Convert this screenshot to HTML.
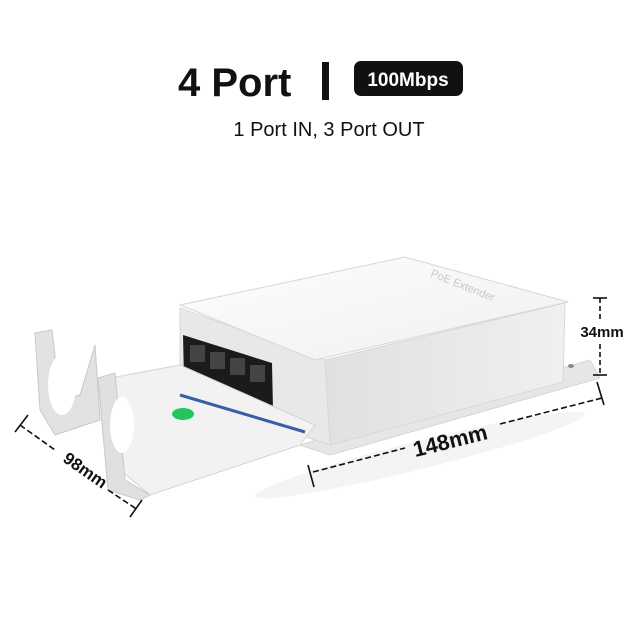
<!DOCTYPE html><html><head><style>body{margin:0;background:#fff}svg{display:block}</style></head><body>
<svg width="640" height="640" viewBox="0 0 640 640" xmlns="http://www.w3.org/2000/svg" font-family="Liberation Sans, sans-serif">
<defs>
<linearGradient id="side" x1="0" y1="0" x2="1" y2="0"><stop offset="0" stop-color="#e0e0e0"/><stop offset="1" stop-color="#f0f0f0"/></linearGradient>
<linearGradient id="top" x1="0" y1="0" x2="1" y2="1"><stop offset="0" stop-color="#fdfdfd"/><stop offset="1" stop-color="#f0f0f0"/></linearGradient>
</defs>
<text x="178" y="96" font-size="40" font-weight="bold" fill="#111">4 Port</text>
<rect x="322" y="62" width="7" height="38" fill="#111"/>
<rect x="354" y="61" width="109" height="35" rx="7" fill="#111"/>
<text x="408" y="86" font-size="19" font-weight="bold" fill="#fff" text-anchor="middle">100Mbps</text>
<text x="329" y="136" font-size="20" fill="#111" text-anchor="middle">1 Port IN, 3 Port OUT</text>
<!-- shadow -->
<ellipse cx="420" cy="455" rx="170" ry="14" fill="#f4f4f4" transform="rotate(-14 420 455)"/>
<!-- flange -->
<polygon points="300,445 590,360 600,378 330,455" fill="#e6e6e6" stroke="#d6d6d6"/>
<ellipse cx="571" cy="366" rx="3" ry="2" fill="#888"/>
<!-- right side face -->
<polygon points="325,360 565,303 563,382 330,445" fill="url(#side)" stroke="#d8d8d8"/>
<!-- front face -->
<polygon points="180,308 325,360 330,445 180,395" fill="#e8e8e8" stroke="#d8d8d8"/>
<!-- top -->
<polygon points="180,305 405,257 568,302 315,360" fill="url(#top)" stroke="#d6d6d6"/>
<text x="430" y="276" font-size="11" fill="#c8c8c8" transform="rotate(22 430 276)">PoE Extender</text>
<!-- ports -->
<polygon points="183,335 272,363 273,410 184,380" fill="#1b1b1b"/>
<g fill="#444"><rect x="190" y="345" width="15" height="17"/><rect x="210" y="352" width="15" height="17"/><rect x="230" y="358" width="15" height="17"/><rect x="250" y="365" width="15" height="17"/></g>
<!-- tray -->
<polygon points="100,380 180,365 315,425 300,445 150,495 120,470" fill="#f2f2f2" stroke="#d4d4d4"/>
<line x1="180" y1="395" x2="305" y2="432" stroke="#3a5da8" stroke-width="3"/>
<ellipse cx="183" cy="414" rx="11" ry="6" fill="#22c55e"/>
<!-- clips -->
<polygon points="35,333 52,330 60,400 80,395 95,345 100,420 55,435 40,410" fill="#e2e2e2" stroke="#c8c8c8"/>
<ellipse cx="62" cy="385" rx="14" ry="30" fill="#fff"/>
<polygon points="98,378 115,373 125,480 150,495 140,500 108,490" fill="#e0e0e0" stroke="#c8c8c8"/>
<ellipse cx="122" cy="425" rx="12" ry="28" fill="#fff"/>
<!-- dimensions -->
<g stroke="#111" stroke-width="1.6" fill="none">
<line x1="593" y1="298" x2="607" y2="298"/><line x1="593" y1="375" x2="607" y2="375"/>
<line x1="600" y1="298" x2="600" y2="320" stroke-dasharray="5 3"/><line x1="600" y1="344" x2="600" y2="375" stroke-dasharray="5 3"/>
<line x1="313" y1="472" x2="405" y2="448" stroke-dasharray="6 3"/><line x1="500" y1="424" x2="602" y2="398" stroke-dasharray="6 3"/>
<line x1="308" y1="465" x2="314" y2="487"/><line x1="597" y1="382" x2="604" y2="405"/>
<line x1="20" y1="425" x2="55" y2="450" stroke-dasharray="6 3"/><line x1="108" y1="490" x2="138" y2="510" stroke-dasharray="6 3"/>
<line x1="28" y1="415" x2="15" y2="432"/><line x1="142" y1="500" x2="130" y2="517"/>
</g>
<text x="602" y="337" font-size="15" font-weight="bold" fill="#111" text-anchor="middle">34mm</text>
<text x="452" y="448" font-size="22" font-weight="bold" fill="#111" text-anchor="middle" transform="rotate(-14 452 448)">148mm</text>
<text x="82" y="475" font-size="17" font-weight="bold" fill="#111" text-anchor="middle" transform="rotate(35 82 475)">98mm</text>
</svg></body></html>
